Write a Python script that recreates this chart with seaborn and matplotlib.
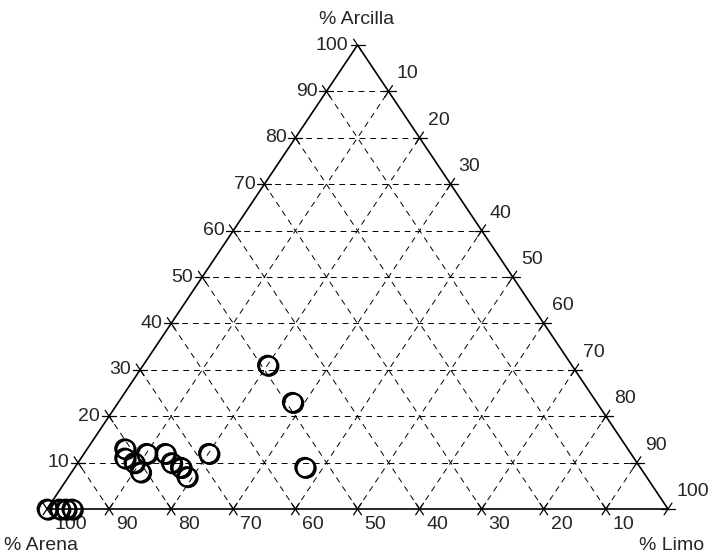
import numpy as np
import pandas as pd
import matplotlib
matplotlib.use("Agg")
import matplotlib.pyplot as plt
import seaborn as sns

# Data (percentages)
arena   = [100, 98, 97, 96, 81, 82, 81, 81, 78, 75, 75, 74, 74, 74, 68, 49, 49, 54]
limo    = [0,   2,  3,  4,  6,  7,  9, 11, 10, 13, 15, 17, 17, 19, 20, 20, 28, 37]
arcilla = [0,   0,  0,  0, 13, 11, 10,  8, 12, 12, 10,  9,  9,  7, 12, 31, 23,  9]

tick_values = [10, 20, 30, 40, 50, 60, 70, 80, 90, 100]
tick_labels = [str(v) for v in tick_values]
title_arcilla = "% Arcilla"
title_arena = "% Arena"
title_limo = "% Limo"

sns.set_theme(style="white")
plt.rcParams['font.family'] = ['Liberation Sans', 'DejaVu Sans']

W, H = 708, 558
fig = plt.figure(figsize=(W / 100, H / 100), dpi=100)
x0, x1, yb, yt = 47, 668, 509, 45
ax = fig.add_axes([x0 / W, (H - yb) / H, (x1 - x0) / W, (yb - yt) / H])
ax.set_xlim(0, 100)
ax.set_ylim(0, 100)
ax.axis("off")

sx = (x1 - x0) / 100.0  # px per unit
sy = (yb - yt) / 100.0


def to_xy(ar, li, ac):
    return li + ac / 2.0, ac


df = pd.DataFrame({"arena": arena, "limo": limo, "arcilla": arcilla})
df["x"] = df["limo"] + df["arcilla"] / 2.0
df["y"] = df["arcilla"]

# triangle outline
tri = np.array([to_xy(100, 0, 0), to_xy(0, 100, 0), to_xy(0, 0, 100), to_xy(100, 0, 0)])
ax.plot(tri[:, 0], tri[:, 1], color="black", lw=1.2, clip_on=False, zorder=3)

dash = dict(color="black", lw=0.7, ls=(0, (6, 5)), zorder=1)
for v in range(10, 100, 10):
    a = to_xy(100 - v, 0, v); b = to_xy(0, 100 - v, v)
    ax.plot([a[0], b[0]], [a[1], b[1]], **dash)
    a = to_xy(100 - v, v, 0); b = to_xy(0, v, 100 - v)
    ax.plot([a[0], b[0]], [a[1], b[1]], **dash)
    a = to_xy(v, 100 - v, 0); b = to_xy(v, 0, 100 - v)
    ax.plot([a[0], b[0]], [a[1], b[1]], **dash)


def tick(px, py, dx, dy, L=7):
    n = np.hypot(dx * sx, dy * sy)
    ux, uy = dx / n * L, dy / n * L
    ax.plot([px - ux, px + ux], [py - uy, py + uy], color="black", lw=0.9,
            clip_on=False, zorder=3)


d_h = (1, 0)
d_left = (50, 100)
d_right = (50, -100)

fs = 14
for v, lab in zip(tick_values, tick_labels):
    px, py = to_xy(100 - v, 0, v)
    tick(px, py, *d_h)
    tick(px, py, *d_right)
    ax.annotate(lab, (px, py), xytext=(-9, 0), textcoords="offset pixels",
                ha="right", va="center", fontsize=fs, annotation_clip=False)
    px, py = to_xy(0, v, 100 - v)
    tick(px, py, *d_h)
    tick(px, py, *d_left)
    ax.annotate(lab, (px, py), xytext=(8, 9), textcoords="offset pixels",
                ha="left", va="bottom", fontsize=fs, annotation_clip=False)
    px, py = to_xy(v, 100 - v, 0)
    tick(px, py, *d_left)
    tick(px, py, *d_right)
    ax.annotate(lab, (px, py), xytext=(7, -7), textcoords="offset pixels",
                ha="left", va="top", fontsize=fs, annotation_clip=False)

# slight offset shadow layer, as in the reference's bold circles
df_sh = df.copy()
df_sh["x"] = df_sh["x"] + 1.3 / sx
df_sh["y"] = df_sh["y"] - 1.0 / sy
sns.scatterplot(data=df_sh, x="x", y="y", ax=ax, marker="o", s=190,
                facecolors="none", edgecolor="black", linewidth=1.6,
                clip_on=False, zorder=5, legend=False)
sns.scatterplot(data=df, x="x", y="y", ax=ax, marker="o", s=190,
                facecolors="none", edgecolor="black", linewidth=1.2,
                clip_on=False, zorder=5, legend=False)

fig.text(357 / W, 1 - 20 / H, title_arcilla, ha="center", va="center", fontsize=fs)
fig.text(4 / W, 1 - 546 / H, title_arena, ha="left", va="center", fontsize=fs)
fig.text(704 / W, 1 - 546 / H, title_limo, ha="right", va="center", fontsize=fs)

fig.savefig("out.png", dpi=100)
